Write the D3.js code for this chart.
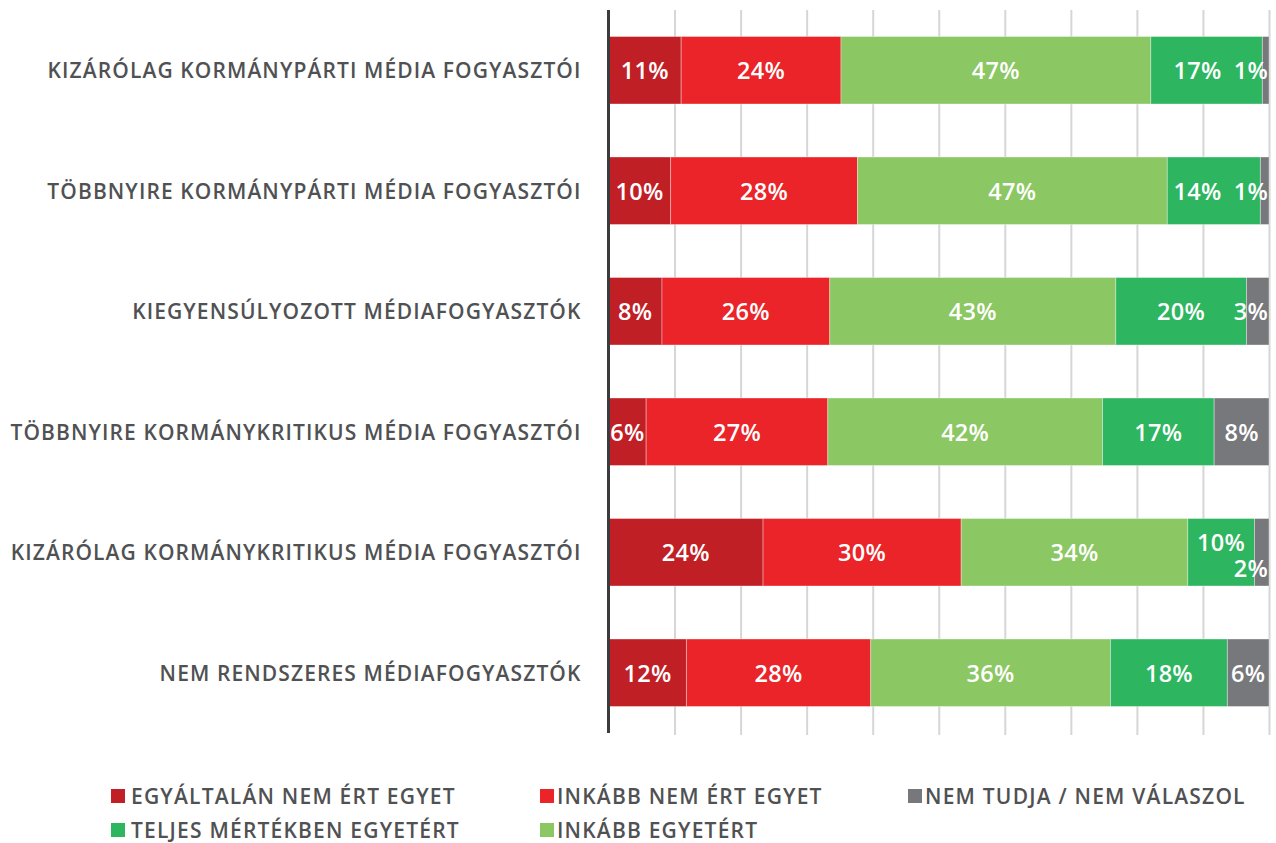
<!DOCTYPE html>
<html>
<head>
<meta charset="utf-8">
<script src="https://cdn.jsdelivr.net/npm/d3@7"></script>
<style>
  body { margin: 0; background: #fff; }
  svg text { font-family: "Open Sans", "DejaVu Sans", sans-serif; }
</style>
</head>
<body>
<div id="chart"></div>
<script>
// kategóriák (felülről lefelé)
const categories = [
  "KIZÁRÓLAG KORMÁNYPÁRTI MÉDIA FOGYASZTÓI",
  "TÖBBNYIRE KORMÁNYPÁRTI MÉDIA FOGYASZTÓI",
  "KIEGYENSÚLYOZOTT MÉDIAFOGYASZTÓK",
  "TÖBBNYIRE KORMÁNYKRITIKUS MÉDIA FOGYASZTÓI",
  "KIZÁRÓLAG KORMÁNYKRITIKUS MÉDIA FOGYASZTÓI",
  "NEM RENDSZERES MÉDIAFOGYASZTÓK"
];

// sávok hossza (a képről becsülve)
const egyaltalanNem = [11.0, 9.4, 8.1, 5.7, 23.4, 11.8];
const inkabbNem     = [24.2, 28.3, 25.4, 27.5, 30.0, 27.9];
const inkabbEgyet   = [46.9, 46.9, 43.3, 41.6, 34.3, 36.3];
const teljesen      = [16.9, 14.1, 19.8, 16.9, 10.1, 17.7];
const nemTudja      = [1.0, 1.3, 3.4, 8.3, 2.2, 6.3];

// a sávokra írt (kerekített) számok
const shownEgyaltalan = [11, 10, 8, 6, 24, 12];
const shownInkabbNem  = [24, 28, 26, 27, 30, 28];
const shownInkabbEgy  = [47, 47, 43, 42, 34, 36];
const shownTeljesen   = [17, 14, 20, 17, 10, 18];
const shownNemTudja   = [1, 1, 3, 8, 2, 6];

const xTicks = [10, 20, 30, 40, 50, 60, 70, 80, 90, 100];

const series = [
  { key: "egyaltalan", name: "EGYÁLTALÁN NEM ÉRT EGYET", color: "#c11f26", values: egyaltalanNem, shown: shownEgyaltalan },
  { key: "inkabbNem", name: "INKÁBB NEM ÉRT EGYET", color: "#ea2428", values: inkabbNem, shown: shownInkabbNem },
  { key: "inkabbEgy", name: "INKÁBB EGYETÉRT", color: "#8bc762", values: inkabbEgyet, shown: shownInkabbEgy },
  { key: "teljesen", name: "TELJES MÉRTÉKBEN EGYETÉRT", color: "#2db560", values: teljesen, shown: shownTeljesen },
  { key: "nemTudja", name: "NEM TUDJA / NEM VÁLASZOL", color: "#76787b", values: nemTudja, shown: shownNemTudja }
];

const legendOrder = ["egyaltalan", "inkabbNem", "nemTudja", "teljesen", "inkabbEgy"];

const textGray = "#505153";

const table = categories.map((c, i) => {
  const row = { cat: c, i: i };
  series.forEach(s => { row[s.key] = s.values[i]; });
  return row;
});

const W = 1276, H = 843;
const margin = { top: 10, right: 7, bottom: 110, left: 608.5 };

const svg = d3.select("#chart").append("svg")
  .attr("width", W)
  .attr("height", H);

const x = d3.scaleLinear().domain([0, 100]).range([margin.left, W - margin.right]);
const y = d3.scaleBand().domain(categories)
  .range([margin.top, H - margin.bottom])
  .paddingInner(0.44)
  .paddingOuter(0.22);

// rácsvonalak
const grid = svg.append("g")
  .attr("transform", "translate(0," + margin.top + ")")
  .call(d3.axisBottom(x).tickValues(xTicks).tickSize(H - margin.bottom - margin.top + 2).tickFormat(""));
grid.select(".domain").remove();
grid.selectAll(".tick line").attr("stroke", "#d6d6d6").attr("stroke-width", 2);

// kategória feliratok
svg.append("g").selectAll("text")
  .data(categories)
  .join("text")
  .attr("x", margin.left - 27)
  .attr("y", d => y(d) + y.bandwidth() / 2)
  .attr("text-anchor", "end")
  .attr("dominant-baseline", "central")
  .attr("fill", textGray)
  .attr("font-size", 21)
  .attr("font-weight", 600)
  .attr("letter-spacing", 1.1)
  .text(d => d);

const stacked = d3.stack().keys(series.map(s => s.key))(table);

const layers = svg.append("g").selectAll("g")
  .data(stacked)
  .join("g")
  .attr("fill", (d, i) => series[i].color);

layers.selectAll("rect")
  .data(d => d)
  .join("rect")
  .attr("x", d => x(d[0]))
  .attr("y", d => y(d.data.cat))
  .attr("width", d => x(d[1]) - x(d[0]))
  .attr("height", y.bandwidth())
  .attr("stroke", "rgba(255,255,255,0.35)")
  .attr("stroke-width", 1);

// függőleges tengely
svg.append("line")
  .attr("x1", margin.left).attr("x2", margin.left)
  .attr("y1", margin.top).attr("y2", H - margin.bottom)
  .attr("stroke", "#3b3c3e")
  .attr("stroke-width", 3);

// százalék feliratok
const labelG = svg.append("g");
stacked.forEach((layer, si) => {
  const s = series[si];
  layer.forEach((d, i) => {
    const t = labelG.append("text")
      .attr("class", "lab row" + i)
      .attr("y", y(d.data.cat) + y.bandwidth() / 2)
      .attr("dominant-baseline", "central")
      .attr("fill", "#fff")
      .attr("font-size", 23.5)
      .attr("font-weight", 600)
      .attr("letter-spacing", 0.3)
      .datum({ x0: x(d[0]), x1: x(d[1]) })
      .text(s.shown[i] + "%");
    const w = t.node().getComputedTextLength();
    const segW = x(d[1]) - x(d[0]);
    if (si === series.length - 1 && w > segW) {
      t.attr("x", x(100) - 1).attr("text-anchor", "end");
    } else {
      t.attr("x", (x(d[0]) + x(d[1])) / 2).attr("text-anchor", "middle");
    }
  });
});

// ha az utolsó két felirat túl közel van: balra toljuk, vagy szétcsúsztatjuk
const minGap = 12;
categories.forEach((c, i) => {
  const labs = labelG.selectAll(".row" + i).nodes();
  const prev = d3.select(labs[labs.length - 2]);
  const a = labs[labs.length - 2].getBBox();
  const b = labs[labs.length - 1].getBBox();
  const need = a.x + a.width + minGap - b.x;
  if (need > 0) {
    if (a.x - need >= prev.datum().x0 + 4) {
      prev.attr("x", +prev.attr("x") - need);
    } else {
      const cy = y(c) + y.bandwidth() / 2;
      prev.attr("y", cy - 10);
      d3.select(labs[labs.length - 1]).attr("y", cy + 16);
    }
  }
});

// jelmagyarázat
const legendX = [111, 540, 908];
const legendY = [796, 830];
const legend = svg.append("g").selectAll("g")
  .data(legendOrder.map(k => series.find(s => s.key === k)))
  .join("g")
  .attr("transform", (d, i) => "translate(" + legendX[i % 3] + "," + legendY[Math.floor(i / 3)] + ")");

legend.append("rect")
  .attr("x", 0).attr("y", -7)
  .attr("width", 14).attr("height", 14)
  .attr("fill", d => d.color);

legend.append("text")
  .attr("x", d => d.key === "egyaltalan" || d.key === "teljesen" ? 20 : 17)
  .attr("y", 0)
  .attr("dominant-baseline", "central")
  .attr("fill", textGray)
  .attr("font-size", 21)
  .attr("font-weight", 600)
  .attr("letter-spacing", 1.2)
  .text(d => d.name);
</script>
</body>
</html>
